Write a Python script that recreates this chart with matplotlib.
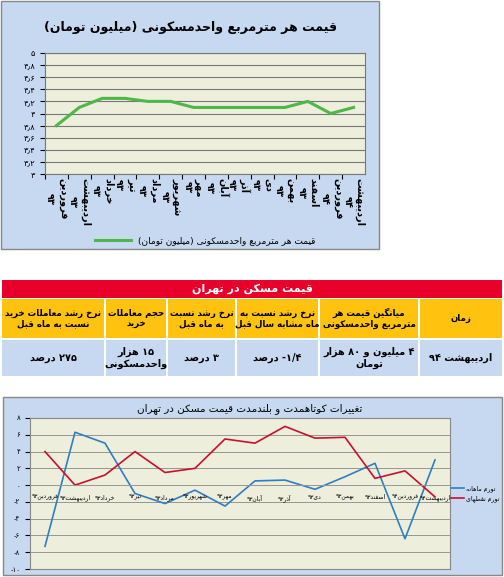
import matplotlib
matplotlib.use("Agg")
import matplotlib.pyplot as plt
from matplotlib.patches import Rectangle

plt.rcParams['font.family'] = ['DejaVu Sans']

# --- minimal Persian shaping (matplotlib has no bidi / joining) ---
FORMS = {
    'ا': (0xFE8D, 0xFE8E, None, None), 'آ': (0xFE81, 0xFE82, None, None),
    'ب': (0xFE8F, 0xFE90, 0xFE91, 0xFE92), 'پ': (0xFB56, 0xFB57, 0xFB58, 0xFB59),
    'ت': (0xFE95, 0xFE96, 0xFE97, 0xFE98), 'ث': (0xFE99, 0xFE9A, 0xFE9B, 0xFE9C),
    'ج': (0xFE9D, 0xFE9E, 0xFE9F, 0xFEA0), 'چ': (0xFB7A, 0xFB7B, 0xFB7C, 0xFB7D),
    'ح': (0xFEA1, 0xFEA2, 0xFEA3, 0xFEA4), 'خ': (0xFEA5, 0xFEA6, 0xFEA7, 0xFEA8),
    'د': (0xFEA9, 0xFEAA, None, None), 'ذ': (0xFEAB, 0xFEAC, None, None),
    'ر': (0xFEAD, 0xFEAE, None, None), 'ز': (0xFEAF, 0xFEB0, None, None),
    'ژ': (0xFB8A, 0xFB8B, None, None),
    'س': (0xFEB1, 0xFEB2, 0xFEB3, 0xFEB4), 'ش': (0xFEB5, 0xFEB6, 0xFEB7, 0xFEB8),
    'ص': (0xFEB9, 0xFEBA, 0xFEBB, 0xFEBC), 'ض': (0xFEBD, 0xFEBE, 0xFEBF, 0xFEC0),
    'ط': (0xFEC1, 0xFEC2, 0xFEC3, 0xFEC4), 'ظ': (0xFEC5, 0xFEC6, 0xFEC7, 0xFEC8),
    'ع': (0xFEC9, 0xFECA, 0xFECB, 0xFECC), 'غ': (0xFECD, 0xFECE, 0xFECF, 0xFED0),
    'ف': (0xFED1, 0xFED2, 0xFED3, 0xFED4), 'ق': (0xFED5, 0xFED6, 0xFED7, 0xFED8),
    'ک': (0xFB8E, 0xFB8F, 0xFB90, 0xFB91), 'گ': (0xFB92, 0xFB93, 0xFB94, 0xFB95),
    'ل': (0xFEDD, 0xFEDE, 0xFEDF, 0xFEE0), 'م': (0xFEE1, 0xFEE2, 0xFEE3, 0xFEE4),
    'ن': (0xFEE5, 0xFEE6, 0xFEE7, 0xFEE8), 'و': (0xFEED, 0xFEEE, None, None),
    'ه': (0xFEE9, 0xFEEA, 0xFEEB, 0xFEEC), 'ی': (0xFBFC, 0xFBFD, 0xFBFE, 0xFBFF),
}
DIGITS = set('۰۱۲۳۴۵۶۷۸۹0123456789٫/')


def shape(s):
    out = []
    for i, c in enumerate(s):
        if c not in FORMS:
            out.append(c)
            continue
        f = FORMS[c]
        prev = s[i - 1] if i > 0 else ''
        nxt = s[i + 1] if i + 1 < len(s) else ''
        jp = prev in FORMS and FORMS[prev][2] is not None
        jn = nxt in FORMS and f[2] is not None
        if jp and jn:
            out.append(chr(f[3]))
        elif jp:
            out.append(chr(f[1]))
        elif jn:
            out.append(chr(f[2]))
        else:
            out.append(chr(f[0]))
    return ''.join(out)


def fa(s):
    lines = []
    for line in s.split('\n'):
        r = shape(line)[::-1]
        res, run = '', ''
        for c in r:
            if c in DIGITS:
                run += c
            else:
                res += run[::-1] + c
                run = ''
        res += run[::-1]
        res = res.replace('(', '\0').replace(')', '(').replace('\0', ')')
        lines.append(res)
    return '\n'.join(lines)


# --- data ---
months = ['فروردین ۹۳', 'اردیبهشت ۹۳', 'خرداد ۹۳', 'تیر ۹۳', 'مرداد ۹۳', 'شهریور ۹۳', 'مهر ۹۳',
          'آبان ۹۳', 'آذر ۹۳', 'دی ۹۳', 'بهمن ۹۳', 'اسفند ۹۳', 'فروردین ۹۴', 'اردیبهشت ۹۴']
price = [3.8, 4.1, 4.25, 4.25, 4.2, 4.2, 4.1, 4.1, 4.1, 4.1, 4.1, 4.2, 4.0, 4.1]
monthly = [-7.3, 6.3, 5.0, -1.0, -2.2, -0.6, -2.5, 0.5, 0.6, -0.5, 1.0, 2.6, -6.4, 3.0]
annual = [4.0, 0.0, 1.2, 4.0, 1.5, 2.0, 5.5, 5.0, 7.0, 5.6, 5.7, 0.8, 1.7, -1.4]
top_yticks = [3.0, 3.2, 3.4, 3.6, 3.8, 4.0, 4.2, 4.4, 4.6, 4.8, 5.0]
top_ylabels = ['۳', '۳٫۲', '۳٫۴', '۳٫۶', '۳٫۸', '۴', '۴٫۲', '۴٫۴', '۴٫۶', '۴٫۸', '۵']
bot_yticks = [-10, -8, -6, -4, -2, 0, 2, 4, 6, 8]
bot_ylabels = ['-۱۰', '-۸', '-۶', '-۴', '-۲', '۰', '۲', '۴', '۶', '۸']
table_headers = ['زمان', 'میانگین قیمت هر\nمترمربع واحدمسکونی', 'نرخ رشد نسبت به\nماه مشابه سال قبل',
                 'نرخ رشد نسبت\nبه ماه قبل', 'حجم معاملات\nخرید', 'نرخ رشد معاملات خرید\nنسبت به ماه قبل']
table_values = ['اردیبهشت ۹۴', '۴ میلیون و ۸۰ هزار\nتومان', '۱/۴- درصد', '۳ درصد',
                '۱۵ هزار\nواحدمسکونی', '۲۷۵ درصد']

W, H = 504, 577
fig = plt.figure(figsize=(W / 100, H / 100), dpi=100)
bg = fig.add_axes([0, 0, 1, 1])
bg.set_xlim(0, W)
bg.set_ylim(H, 0)
bg.axis('off')

BLUE_BG = '#c6d9f0'
PLOT_BG = '#eeeedd'


def px_axes(x, y, w, h):
    return fig.add_axes([x / W, 1 - (y + h) / H, w / W, h / H])


# top panel
bg.add_patch(Rectangle((1, 1), 378, 248, fc=BLUE_BG, ec='#888888', lw=1))
bg.text(190, 28, fa('قیمت هر مترمربع واحدمسکونی (میلیون تومان)'), ha='center', va='center',
        fontsize=9, fontweight='bold')
ax1 = px_axes(45, 53, 320, 121)
ax1.set_facecolor(PLOT_BG)
x = range(len(months))
ax1.plot(x, price, color='#4db848', lw=2.2, label=fa('قیمت هر مترمربع واحدمسکونی (میلیون تومان)'))
ax1.set_ylim(3, 5)
ax1.set_xlim(-0.5, len(months) - 0.5)
ax1.set_yticks(top_yticks)
ax1.set_yticklabels(top_ylabels, fontsize=6)
ax1.set_xticks([i - 0.5 for i in x], minor=False)
ax1.set_xticklabels([])
ax1.set_xticks(list(x), minor=True)
ax1.set_xticklabels([fa(m.replace(' ', '\n')) for m in months], minor=True, rotation=270,
                    fontsize=7, fontweight='bold', va='top', ha='center', linespacing=1.3,
                    rotation_mode='default')
ax1.tick_params(axis='x', which='minor', length=0, pad=3)
ax1.grid(axis='y', color='#777777', lw=0.8)
for s in ax1.spines.values():
    s.set_color('#777777')
ax1.legend(loc='upper center', bbox_to_anchor=(0.5, -0.45), frameon=False, fontsize=6.5,
           handlelength=4)

# table
bg.add_patch(Rectangle((2, 280), 500, 18, fc='#e8002b', ec='none'))
bg.text(252, 289, fa('قیمت مسکن در تهران'), ha='center', va='center', color='white',
        fontsize=8, fontweight='bold')
cols = [(420, 502), (320, 418), (237, 318), (168, 235), (106, 166), (2, 104)]
for (x0, x1), h, v in zip(cols, table_headers, table_values):
    bg.add_patch(Rectangle((x0, 299), x1 - x0, 39, fc='#ffc20e', ec='none'))
    bg.add_patch(Rectangle((x0, 340), x1 - x0, 36, fc=BLUE_BG, ec='none'))
    bg.text((x0 + x1) / 2, 318.5, fa(h), ha='center', va='center', fontsize=6.2, fontweight='bold')
    bg.text((x0 + x1) / 2, 358, fa(v), ha='center', va='center', fontsize=7, fontweight='bold')

# bottom panel
bg.add_patch(Rectangle((3, 397), 499, 178, fc=BLUE_BG, ec='#888888', lw=1))
bg.text(250, 409, fa('تغییرات کوتاهمدت و بلندمدت قیمت مسکن در تهران'),
        ha='center', va='center', fontsize=7.5)
ax2 = px_axes(30, 418, 420, 151)
ax2.set_facecolor(PLOT_BG)
ax2.plot(x, monthly, color='#2d7fc1', lw=1.2, label=fa('تورم ماهانه'))
ax2.plot(x, annual, color='#c8102e', lw=1.2, label=fa('تورم نقطهای'))
ax2.set_ylim(-10, 8)
ax2.set_xlim(-0.5, len(months) - 0.5)
ax2.set_yticks(bot_yticks)
ax2.set_yticklabels(bot_ylabels, fontsize=5)
ax2.set_xticks([])
ax2.axhline(0, color='#999999', lw=0.6)
for i, m in enumerate(months):
    ax2.text(i, -1.5, fa(m.replace(' ', '')), ha='center', va='center', fontsize=4.3)
ax2.grid(axis='y', color='#888888', lw=0.6)
for s in ax2.spines.values():
    s.set_color('#888888')
ax2.legend(loc='center left', bbox_to_anchor=(0.995, 0.5), frameon=False, fontsize=4.5,
           handlelength=2, handletextpad=0.4, borderaxespad=0.1)

fig.savefig('out.png', dpi=100)
